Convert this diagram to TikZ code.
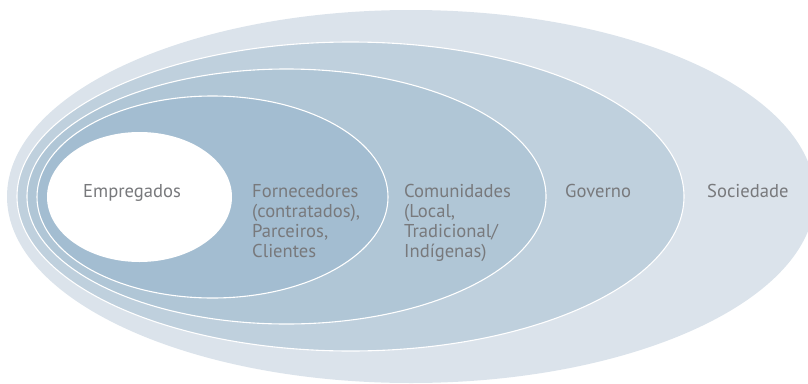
\documentclass[tikz,border=0pt]{standalone}
\usepackage{fontspec}
\setmainfont{PT Sans}
\definecolor{cSoc}{RGB}{219,227,235}
\definecolor{cGov}{RGB}{191,208,221}
\definecolor{cCom}{RGB}{176,198,214}
\definecolor{cFor}{RGB}{163,189,209}
\definecolor{txt}{RGB}{120,121,124}
\begin{document}
\begin{tikzpicture}[x=1pt,y=-1pt,
  ring/.style={draw=white,line width=1.1pt},
  lbl/.style={anchor=base west,align=left,inner sep=0pt,text=txt,font=\fontsize{18.6}{20}\selectfont}]
\useasboundingbox (0,0) rectangle (808,383);
\clip (0,0) rectangle (808,383);
\fill[cSoc] (411,196.5) ellipse [x radius=404, y radius=186.5];
\filldraw[fill=cGov,ring] (350.5,196.5) ellipse [x radius=333.5, y radius=154.5];
\filldraw[fill=cCom,ring] (286.5,196.5) ellipse [x radius=259.5, y radius=127.5];
\filldraw[fill=cFor,ring] (212.5,197) ellipse [x radius=175.5, y radius=101];
\fill[white] (139.5,197) ellipse [x radius=92.5, y radius=65];
\node[lbl] (emp) at (83,197) {Empregados};
\node[lbl] (for) at (252,257) {Fornecedores\\(contratados),\\Parceiros,\\Clientes};
\node[lbl] (com) at (404,257) {Comunidades\\(Local,\\Tradicional/\\Indígenas)};
\node[lbl] (gov) at (565,197) {Governo};
\node[lbl] (soc) at (707,197) {Sociedade};
\end{tikzpicture}
\end{document}
